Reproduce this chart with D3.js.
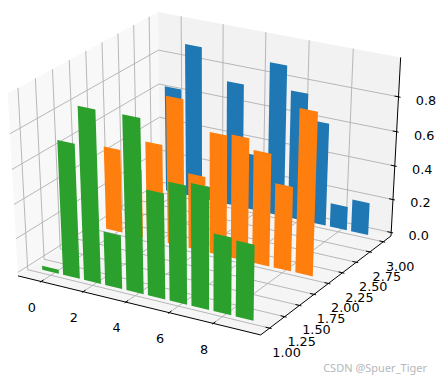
<!DOCTYPE html>
<html>
<head>
<meta charset="utf-8">
<script src="https://cdnjs.cloudflare.com/ajax/libs/d3/7.8.5/d3.min.js"></script>
<style>
  html, body { margin: 0; padding: 0; background: #fff; }
  svg { display: block; }
  text { font-family: "DejaVu Sans", sans-serif; fill: #000; }
</style>
</head>
<body>
<div id="chart"></div>
<script>
// Data
var barX = [0, 1, 2, 3, 4, 5, 6, 7, 8, 9];
var blueValues = [0.634, 0.904, 0.081, 0.736, 0.335, 0.893, 0.756, 0.609, 0.142, 0.193];
var orangeValues = [0.494, 0.403, 0.575, 0.86, 0.443, 0.707, 0.718, 0.657, 0.494, 0.941];
var greenValues = [0.025, 0.777, 0.99, 0.314, 0.995, 0.609, 0.68, 0.70, 0.447, 0.436];
var planeY = [3, 2, 1];
var planeColors = ["#1f77b4", "#ff7f0e", "#2ca02c"];
var xTicks = [0, 2, 4, 6, 8];
var yTicks = [1.00, 1.25, 1.50, 1.75, 2.00, 2.25, 2.50, 2.75, 3.00];
var zTicks = [0.0, 0.2, 0.4, 0.6, 0.8];
var watermark = "CSDN @Spuer_Tiger";

var WIDTH = 443;
var HEIGHT = 384;
var BAR_WIDTH = 0.8;

// -----------------------------------------------------------------------------
// Scales: data -> unit cube, camera plane -> pixels
// -----------------------------------------------------------------------------

var xScale = d3.scaleLinear().domain([-0.89, 9.89]).range([0, 1]);
var yScale = d3.scaleLinear().domain([0.9, 3.1]).range([0, 1]);
var zScale = d3.scaleLinear().domain([0, 1]).range([0, 1]);
var pxScale = d3.scaleLinear().domain([0, 1]).range([207.5, 207.5 + 2689]);
var pyScale = d3.scaleLinear().domain([0, 1]).range([167.7, 167.7 - 1999]);

// the box is drawn slightly outside the axis limits
var PAD = 1 / 48;
var LOW = -PAD;
var HIGH = 1 + PAD;

var elev = 30 * Math.PI / 180;
var azim = -60 * Math.PI / 180;
var dist = 10;
var n = [Math.cos(azim) * Math.cos(elev), Math.sin(azim) * Math.cos(elev), Math.sin(elev)];
var u = [-n[1], n[0], 0].map(function(d) { return d / Math.cos(elev); });
var v = [n[1] * u[2] - n[2] * u[1], n[2] * u[0] - n[0] * u[2], n[0] * u[1] - n[1] * u[0]];

function dot(a, b) {
  return a[0] * b[0] + a[1] * b[1] + a[2] * b[2];
}

// takes unit cube coordinates
function project(c) {
  var p = [c[0] - 0.5, c[1] - 0.5, c[2] - 0.5];
  var w = dist - dot(n, p);
  return [pxScale(dot(u, p) / w), pyScale(dot(v, p) / w)];
}

var pathLine = d3.line();

function cubePath(points, closed) {
  return pathLine(points.map(project)) + (closed ? "Z" : "");
}

// -----------------------------------------------------------------------------
// Drawing
// -----------------------------------------------------------------------------

var svg = d3.select("#chart").append("svg")
    .attr("width", WIDTH)
    .attr("height", HEIGHT);

var panes = [
  {fill: "rgba(242,242,242,0.5)", pts: [[LOW, LOW, LOW], [LOW, HIGH, LOW], [LOW, HIGH, HIGH], [LOW, LOW, HIGH]]},
  {fill: "rgba(230,230,230,0.5)", pts: [[LOW, HIGH, LOW], [HIGH, HIGH, LOW], [HIGH, HIGH, HIGH], [LOW, HIGH, HIGH]]},
  {fill: "rgba(236,236,236,0.5)", pts: [[LOW, LOW, LOW], [HIGH, LOW, LOW], [HIGH, HIGH, LOW], [LOW, HIGH, LOW]]}
];

svg.append("g").selectAll("path")
    .data(panes)
  .enter().append("path")
    .attr("d", function(d) { return cubePath(d.pts, true); })
    .attr("fill", function(d) { return d.fill; })
    .attr("stroke", "none");

function addGrid(values, pointsFor) {
  svg.append("g").selectAll("path")
      .data(values)
    .enter().append("path")
      .attr("d", function(d) { return cubePath(pointsFor(d), false); })
      .attr("fill", "none")
      .attr("stroke", "#b0b0b0")
      .attr("stroke-width", 0.9);
}

addGrid(xTicks, function(d) {
  var c = xScale(d);
  return [[c, LOW, LOW], [c, HIGH, LOW], [c, HIGH, HIGH]];
});
addGrid(yTicks, function(d) {
  var c = yScale(d);
  return [[HIGH, c, LOW], [LOW, c, LOW], [LOW, c, HIGH]];
});
addGrid(zTicks, function(d) {
  var c = zScale(d);
  return [[LOW, LOW, c], [LOW, HIGH, c], [HIGH, HIGH, c]];
});

// axis lines
var axisLines = [
  [[LOW, LOW, LOW], [HIGH, LOW, LOW]],
  [[HIGH, LOW, LOW], [HIGH, HIGH, LOW]],
  [[HIGH, HIGH, LOW], [HIGH, HIGH, HIGH]]
];

svg.append("g").selectAll("path")
    .data(axisLines)
  .enter().append("path")
    .attr("d", function(d) { return cubePath(d, false); })
    .attr("fill", "none")
    .attr("stroke", "#000")
    .attr("stroke-width", 1);

// ticks run along the neighbouring axis, short way out and a bit more in
var TICK_OUT = 0.1 / 12;
var TICK_IN = 0.2 / 12;

function addTicks(values, pointsFor, format, dx, dy) {
  var g = svg.append("g");
  g.selectAll("path")
      .data(values)
    .enter().append("path")
      .attr("d", function(d) { return cubePath(pointsFor(d), false); })
      .attr("fill", "none")
      .attr("stroke", "#000")
      .attr("stroke-width", 1);
  g.selectAll("text")
      .data(values)
    .enter().append("text")
      .attr("x", function(d) { return project(pointsFor(d)[0])[0] + dx; })
      .attr("y", function(d) { return project(pointsFor(d)[0])[1] + dy; })
      .attr("text-anchor", "middle")
      .attr("dominant-baseline", "central")
      .style("font-size", "12.8px")
      .text(format);
}

addTicks(xTicks, function(d) {
  var c = xScale(d);
  return [[c, LOW - TICK_OUT, LOW], [c, LOW + TICK_IN, LOW]];
}, d3.format("d"), -8, 25);

addTicks(yTicks, function(d) {
  var c = yScale(d);
  return [[HIGH + TICK_OUT, c, LOW], [HIGH - TICK_IN, c, LOW]];
}, d3.format(".2f"), 15, 24);

addTicks(zTicks, function(d) {
  var c = zScale(d);
  return [[HIGH + TICK_OUT, HIGH, c], [HIGH - TICK_IN, HIGH, c]];
}, d3.format(".1f"), 25.5, 3);

// bars, back plane first
[blueValues, orangeValues, greenValues].forEach(function(values, k) {
  var yc = yScale(planeY[k]);
  svg.append("g").selectAll("path")
      .data(values)
    .enter().append("path")
      .attr("d", function(d, i) {
        var x0 = xScale(barX[i] - BAR_WIDTH / 2);
        var x1 = xScale(barX[i] + BAR_WIDTH / 2);
        var z0 = zScale(0);
        var z1 = zScale(d);
        return cubePath([[x0, yc, z0], [x1, yc, z0], [x1, yc, z1], [x0, yc, z1]], true);
      })
      .attr("fill", planeColors[k]);
});

svg.append("text")
    .attr("x", 427)
    .attr("y", 372)
    .attr("text-anchor", "end")
    .style("font-family", "'Noto Sans', sans-serif")
    .style("font-size", "11px")
    .style("fill", "#b4b8bc")
    .text(watermark);
</script>
</body>
</html>
